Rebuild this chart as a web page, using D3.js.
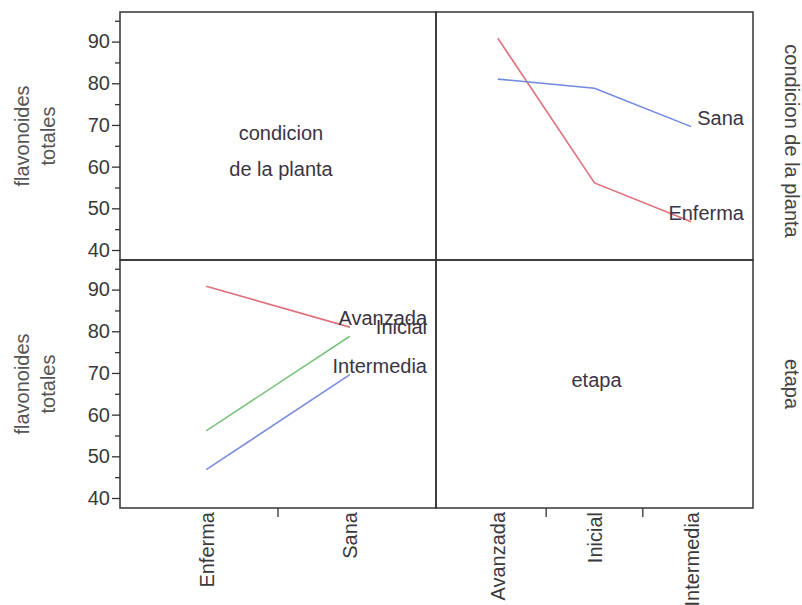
<!DOCTYPE html>
<html>
<head>
<meta charset="utf-8">
<script src="https://cdn.jsdelivr.net/npm/d3@7"></script>
<style>
  body { margin: 0; background: #fff; }
  svg text { font-family: "Liberation Sans", Arial, sans-serif; }
</style>
</head>
<body>
<svg id="chart"></svg>
<script>
// categories
const condiciones = ["Enferma", "Sana"];
const etapas = ["Avanzada", "Inicial", "Intermedia"];
// mean flavonoides totales, one array per condicion, in etapas order
const enfermaVals = [90.8, 56.1, 46.8];
const sanaVals = [81.0, 78.8, 69.6];
const yTicks = [40, 50, 60, 70, 80, 90];
const yMinorTicks = [45, 55, 65, 75, 85, 95];

const condColors = { Enferma: "#e0717c", Sana: "#7189de" };
const etapaColors = { Avanzada: "#e0717c", Inicial: "#7cc27f", Intermedia: "#7a8ce0" };

let w = 802;
let h = 605;
let left = 120, mid = 436, right = 753;
let top0 = 12, midY = 260, bottom = 508;
let fontSize = 20;
let textColor = "#3a3a3a";

const svg = d3.select("#chart").attr("width", w).attr("height", h);
svg.append("rect").attr("width", w).attr("height", h).attr("fill", "#fff");

const valueOf = (cond, etapa) =>
  (cond === "Enferma" ? enfermaVals : sanaVals)[etapas.indexOf(etapa)];

/*-------------------------- scales --------------------------*/
let yTop = d3.scaleLinear().domain([37.6, 97.1]).range([midY, top0]);
let yBot = d3.scaleLinear().domain([37.6, 97.1]).range([bottom, midY]);
let xCond = d3.scalePoint().domain(condiciones).range([left, mid]).padding(0.6);
let xEtapa = d3.scalePoint().domain(etapas).range([mid, right]).padding(0.64);

/*-------------------------- y axes --------------------------*/
function drawYAxis(scale) {
  let g = svg.append("g").attr("transform", "translate(" + left + ",0)");
  g.call(d3.axisLeft(scale).tickValues(yTicks).tickSize(8).tickPadding(2))
    .call((s) => s.select(".domain").remove());
  g.selectAll(".tick line").attr("stroke", "#333").attr("stroke-width", 1.3);
  g.selectAll(".tick text")
    .attr("font-size", fontSize)
    .attr("fill", textColor)
    .attr("font-family", "Liberation Sans, Arial, sans-serif");
  let m = svg.append("g").attr("transform", "translate(" + left + ",0)");
  m.call(d3.axisLeft(scale).tickValues(yMinorTicks).tickSize(5).tickFormat(""))
    .call((s) => s.select(".domain").remove());
  m.selectAll(".tick line").attr("stroke", "#333").attr("stroke-width", 1.3);
}
drawYAxis(yTop);
drawYAxis(yBot);

/*-------------------------- x axes --------------------------*/
function drawXAxis(scale) {
  let g = svg.append("g").attr("transform", "translate(0," + bottom + ")");
  g.call(d3.axisBottom(scale).tickSize(0).tickPadding(0))
    .call((s) => s.select(".domain").remove());
  g.selectAll(".tick text")
    .attr("font-size", fontSize)
    .attr("fill", textColor)
    .attr("font-family", "Liberation Sans, Arial, sans-serif")
    .attr("text-anchor", "end")
    .attr("transform", "translate(0,4) rotate(-90)")
    .attr("x", 0)
    .attr("y", 0)
    .attr("dy", "0.35em");
  // ticks sit between the categories
  let between = d3.pairs(scale.domain()).map(([a, b]) => (scale(a) + scale(b)) / 2);
  g.selectAll("line.sep")
    .data(between)
    .enter()
    .append("line")
    .attr("class", "sep")
    .attr("x1", (d) => d)
    .attr("x2", (d) => d)
    .attr("y1", 0)
    .attr("y2", 9)
    .attr("stroke", "#333")
    .attr("stroke-width", 1.3);
}
drawXAxis(xCond);
drawXAxis(xEtapa);

/*-------------------------- lines --------------------------*/
function drawLines(xScale, yScale, xCats, series, colors, panelRight) {
  let line = d3.line().x((d) => xScale(d.x)).y((d) => yScale(d.y));
  let data = series.map((s) => ({
    name: s,
    values: xCats.map((c) => ({ x: c, y: s.value(c) })),
  }));
  svg.append("g")
    .selectAll("path")
    .data(data)
    .enter()
    .append("path")
    .attr("d", (d) => line(d.values))
    .attr("fill", "none")
    .attr("stroke", (d) => colors[d.name.key])
    .attr("stroke-width", 1.6);
  svg.append("g")
    .selectAll("text")
    .data(data)
    .enter()
    .append("text")
    .attr("x", panelRight - 9)
    .attr("y", (d) => yScale(d.values[d.values.length - 1].y) - 2)
    .attr("text-anchor", "end")
    .attr("font-size", fontSize)
    .attr("fill", "#3b3444")
    .text((d) => d.name.key);
}

// top right: x = etapa, one line per condicion
drawLines(
  xEtapa,
  yTop,
  etapas,
  condiciones.map((c) => ({ key: c, value: (e) => valueOf(c, e) })),
  condColors,
  right
);
// bottom left: x = condicion, one line per etapa
drawLines(
  xCond,
  yBot,
  condiciones,
  etapas.map((e) => ({ key: e, value: (c) => valueOf(c, e) })),
  etapaColors,
  mid
);

/*-------------------------- frames --------------------------*/
svg.append("g")
  .selectAll("rect")
  .data([
    [left, top0, mid, midY],
    [mid, top0, right, midY],
    [left, midY, mid, bottom],
    [mid, midY, right, bottom],
  ])
  .enter()
  .append("rect")
  .attr("x", (d) => d[0])
  .attr("y", (d) => d[1])
  .attr("width", (d) => d[2] - d[0])
  .attr("height", (d) => d[3] - d[1])
  .attr("fill", "none")
  .attr("stroke", "#333")
  .attr("stroke-width", 1.5);

/*-------------------------- diagonal + titles --------------------------*/
let cxL = (left + mid) / 2, cxR = (mid + right) / 2;
let cyT = (top0 + midY) / 2, cyB = (midY + bottom) / 2;

svg.append("text").attr("x", cxL + 3).attr("y", cyT + 4)
  .attr("text-anchor", "middle").attr("font-size", fontSize).attr("fill", "#3b3444")
  .text("condicion");
svg.append("text").attr("x", cxL + 3).attr("y", cyT + 40)
  .attr("text-anchor", "middle").attr("font-size", fontSize).attr("fill", "#3b3444")
  .text("de la planta");
svg.append("text").attr("x", cxR + 2).attr("y", cyB + 3)
  .attr("text-anchor", "middle").attr("font-size", fontSize).attr("fill", "#3b3444")
  .text("etapa");

[cyT, cyB].forEach((cy) => {
  let t = svg.append("text")
    .attr("transform", "translate(0," + cy + ") rotate(-90)")
    .attr("text-anchor", "middle")
    .attr("font-size", fontSize)
    .attr("fill", "#555");
  t.append("tspan").attr("x", 0).attr("y", 29).text("flavonoides");
  t.append("tspan").attr("x", 0).attr("y", 55).text("totales");
});

svg.append("text")
  .attr("transform", "translate(792," + (cyT + 5) + ") rotate(90)")
  .attr("text-anchor", "middle")
  .attr("dy", "0.35em")
  .attr("font-size", fontSize)
  .attr("fill", "#444")
  .text("condicion de la planta");
svg.append("text")
  .attr("transform", "translate(792," + cyB + ") rotate(90)")
  .attr("text-anchor", "middle")
  .attr("dy", "0.35em")
  .attr("font-size", fontSize)
  .attr("fill", "#444")
  .text("etapa");
</script>
</body>
</html>
